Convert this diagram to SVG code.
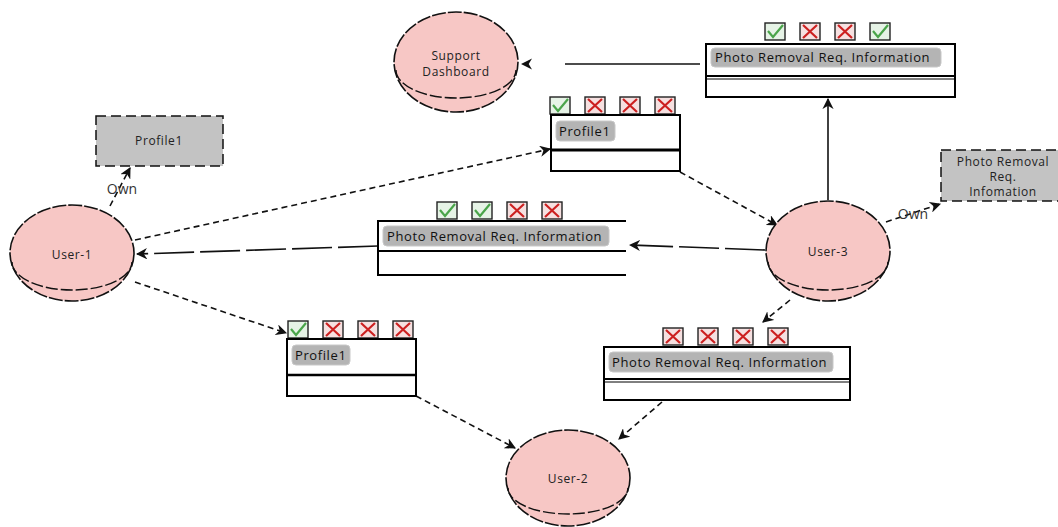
<svg xmlns="http://www.w3.org/2000/svg" width="1058" height="527" viewBox="0 0 1058 527">
<style>
.bg{fill:#ffffff}
.node ellipse{fill:#f7c7c5;stroke:#111;stroke-width:1.6;stroke-dasharray:14 2}
.node path.rim{fill:none;stroke:#111;stroke-width:1.4;stroke-dasharray:12 3}
.lbl{font-family:"Open Sans","DejaVu Sans",sans-serif;font-size:12px;letter-spacing:0.6px;fill:#222;text-anchor:middle}
.gbox{fill:#c3c3c3;stroke:#111;stroke-width:1.5;stroke-dasharray:10 5}
.tbl{fill:#fff;stroke:#000;stroke-width:2}
.chip{fill:#b4b4b4;stroke:#c8c8c8}
.chipt{font-family:"Open Sans","DejaVu Sans",sans-serif;font-size:13px;letter-spacing:0.6px;fill:#111}
.conn line,.conn path{stroke:#111;stroke-width:1.6;fill:none}
.dash{stroke-dasharray:6 4}
.lng{stroke-dasharray:40 6}
.own{font-family:"Open Sans","DejaVu Sans",sans-serif;font-size:14px;fill:#333}
</style>
<defs>
<marker id="ah" viewBox="0 0 10 10" refX="9" refY="5" markerWidth="7" markerHeight="7" orient="auto-start-reverse">
<path d="M0,0 L10,5 L0,10 L3,5 Z" fill="#111"/>
</marker>
<g id="ok">
<rect x="0" y="0" width="20" height="17" fill="#e6f3e6" stroke="#222" stroke-width="1.4"/>
<path d="M3,8 L8,14 L18,2" fill="none" stroke="#4aa54a" stroke-width="2.2"/>
</g>
<g id="no">
<rect x="0" y="0" width="20" height="17" fill="#f6e0e0" stroke="#222" stroke-width="1.4"/>
<path d="M3,2 L17,15 M17,2 L3,15" fill="none" stroke="#cc2020" stroke-width="2.2"/>
</g>
</defs>
<rect class="bg" x="0" y="0" width="1058" height="527"/>

<g id="connectors" class="conn">
<line x1="700" y1="64" x2="522" y2="64" style="stroke-dasharray:135 45" marker-end="url(#ah)"/>
<line x1="828" y1="200" x2="828" y2="99" marker-end="url(#ah)"/>
<line x1="135" y1="240" x2="550" y2="149" class="dash" marker-end="url(#ah)"/>
<line x1="680" y1="172" x2="777" y2="225" class="dash" marker-end="url(#ah)"/>
<line x1="765" y1="250" x2="630" y2="245" class="lng" marker-end="url(#ah)"/>
<line x1="378" y1="246" x2="137" y2="254" class="lng" marker-end="url(#ah)"/>
<line x1="135" y1="282" x2="286" y2="333" class="dash" marker-end="url(#ah)"/>
<line x1="416" y1="396" x2="515" y2="448" class="dash" marker-end="url(#ah)"/>
<line x1="790" y1="300" x2="763" y2="322" class="dash" marker-end="url(#ah)"/>
<line x1="662" y1="402" x2="619" y2="439" class="dash" marker-end="url(#ah)"/>
<line x1="110" y1="206" x2="130" y2="168" class="dash" marker-end="url(#ah)"/>
<line x1="886" y1="222" x2="940" y2="204" class="dash" marker-end="url(#ah)"/>
<text class="own" x="122" y="194" text-anchor="middle">Own</text>
<text class="own" x="913" y="219" text-anchor="middle">Own</text>
</g>

<g id="support-dashboard" class="node">
<ellipse cx="456" cy="62" rx="62" ry="50"/>
<path class="rim" d="M396,70 A60 28 0 0 0 516,70"/>
<text class="lbl" x="456" y="60">Support</text>
<text class="lbl" x="456" y="76">Dashboard</text>
</g>

<g id="user-1" class="node">
<ellipse cx="72" cy="253" rx="62" ry="48"/>
<path class="rim" d="M12,262 A60 28 0 0 0 132,262"/>
<text class="lbl" x="72" y="259">User-1</text>
</g>

<g id="user-3" class="node">
<ellipse cx="828" cy="251" rx="62" ry="50"/>
<path class="rim" d="M768,262 A60 28 0 0 0 888,262"/>
<text class="lbl" x="828" y="256">User-3</text>
</g>

<g id="user-2" class="node">
<ellipse cx="568" cy="478" rx="62" ry="48"/>
<path class="rim" d="M508,488 A60 26 0 0 0 628,488"/>
<text class="lbl" x="568" y="483">User-2</text>
</g>

<g id="profile1-owned">
<rect class="gbox" x="96" y="116" width="127" height="50"/>
<text class="lbl" x="159" y="145">Profile1</text>
</g>

<g id="photo-removal-owned">
<rect class="gbox" x="941" y="150" width="120" height="51"/>
<text class="lbl" x="1003" y="166">Photo Removal</text>
<text class="lbl" x="1003" y="181">Req.</text>
<text class="lbl" x="1003" y="196">Infomation</text>
</g>

<g id="table-top-right">
<use href="#ok" x="765" y="23"/><use href="#no" x="800" y="23"/><use href="#no" x="835" y="23"/><use href="#ok" x="870" y="23"/>
<rect class="tbl" x="706" y="44" width="249" height="53"/>
<line x1="706" y1="76" x2="955" y2="76" stroke="#000" stroke-width="2"/>
<line x1="706" y1="79" x2="955" y2="79" stroke="#000" stroke-width="1"/>
<rect class="chip" x="711" y="48" width="230" height="19" rx="4"/>
<text class="chipt" x="715" y="62">Photo Removal Req. Information</text>
</g>

<g id="table-profile1-top">
<use href="#ok" x="550" y="97"/><use href="#no" x="585" y="97"/><use href="#no" x="620" y="97"/><use href="#no" x="655" y="97"/>
<rect class="tbl" x="551" y="115" width="129" height="56"/>
<line x1="551" y1="150" x2="680" y2="150" stroke="#000" stroke-width="3"/>
<rect class="chip" x="556" y="121" width="59" height="20" rx="4"/>
<text class="chipt" x="559" y="136">Profile1</text>
</g>

<g id="table-middle">
<use href="#ok" x="437" y="202"/><use href="#ok" x="472" y="202"/><use href="#no" x="507" y="202"/><use href="#no" x="542" y="202"/>
<path d="M626,221 L378,221 L378,275 L626,275 M378,251 L626,251" fill="none" stroke="#000" stroke-width="2"/>
<rect class="chip" x="383" y="226" width="226" height="20" rx="4"/>
<text class="chipt" x="387" y="241">Photo Removal Req. Information</text>
</g>

<g id="table-profile1-bottom">
<use href="#ok" x="288" y="321"/><use href="#no" x="323" y="321"/><use href="#no" x="358" y="321"/><use href="#no" x="393" y="321"/>
<rect class="tbl" x="287" y="339" width="129" height="57"/>
<line x1="287" y1="375" x2="416" y2="375" stroke="#000" stroke-width="2.5"/>
<rect class="chip" x="292" y="345" width="58" height="20" rx="4"/>
<text class="chipt" x="295" y="360">Profile1</text>
</g>

<g id="table-bottom-right">
<use href="#no" x="663" y="328"/><use href="#no" x="698" y="328"/><use href="#no" x="733" y="328"/><use href="#no" x="768" y="328"/>
<rect class="tbl" x="604" y="347" width="246" height="53"/>
<line x1="604" y1="379" x2="850" y2="379" stroke="#000" stroke-width="2"/>
<line x1="604" y1="382" x2="850" y2="382" stroke="#000" stroke-width="1"/>
<rect class="chip" x="609" y="352" width="224" height="20" rx="4"/>
<text class="chipt" x="612" y="367">Photo Removal Req. Information</text>
</g>
</svg>
